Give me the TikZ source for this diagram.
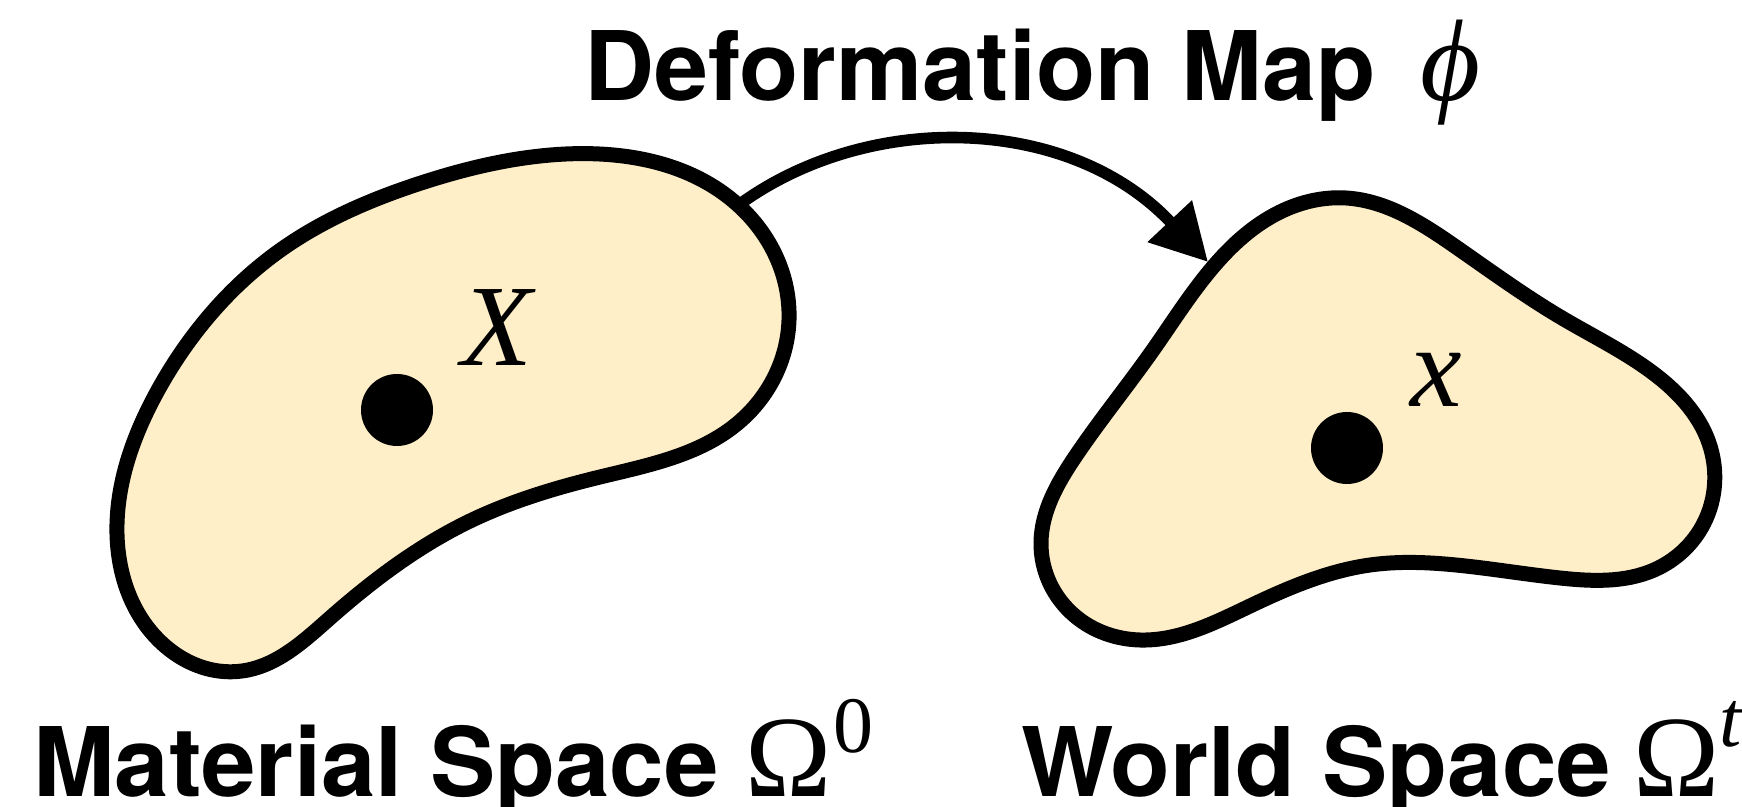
\documentclass[tikz,border=0pt]{standalone}
\usepackage{fontspec}
\setmainfont{TeX Gyre Heros}
\newfontfamily\headA{TeX Gyre Heros}[FakeStretch=1.02]
\newfontfamily\headB{TeX Gyre Heros}[FakeStretch=1.01]
\newfontfamily\tms{Liberation Serif}
\usetikzlibrary{arrows.meta,hobby}
\definecolor{blobfill}{RGB}{254,239,201}
\tikzset{
  blob/.style={fill=blobfill, draw=black, line width=7.5pt, line join=round},
  dot/.style={circle, fill=black, inner sep=0pt, minimum size=36pt},
  heading/.style={inner sep=0pt, anchor=base west, font=\headA\fontsize{48}{56}\selectfont\bfseries},
  sym/.style={inner sep=0pt, font=\tms\fontsize{58}{62}\selectfont},
  maparrow/.style={line width=5.8pt, -{Triangle[length=28pt,width=29pt]}}
}
\begin{document}
\begin{tikzpicture}[x=0.5pt,y=-0.5pt]
\useasboundingbox (0,0) rectangle (1742,807);
% material blob
\filldraw[blob, use Hobby shortcut, closed=true]
 (566,154) .. (738,205) .. (789,320) .. (738,423) .. (600,477) .. (470,521)
 .. (330,618) .. (242,671) .. (148,628) .. (117,534) .. (157,392) .. (282,249)
 .. (421,183);
% world blob
\filldraw[blob, use Hobby shortcut, closed=true]
 (1346,198) .. (1456,247) .. (1562,318) .. (1649,370) .. (1709,443) .. (1704,523)
 .. (1654,570) .. (1560,578) .. (1456,565) .. (1370,565) .. (1250,606)
 .. (1140,640) .. (1075,616) .. (1041,543) .. (1075,457) .. (1153,350)
 .. (1213,267) .. (1280,212);
% points
\node[dot] (P) at (397,410) {};
\node[dot] (p) at (1347,448) {};
\node[sym, anchor=base] (Xl) at (497,366) {\itshape X};
\node[sym, anchor=base] (xl) at (1436,407) {\itshape x};
% arrow
\coordinate (mstart) at (740,204);
\coordinate (wend) at (1208,262);
\draw[maparrow] (mstart) .. controls (870,110) and (1070,115) .. (wend);
% labels
\node[heading, font=\headB\fontsize{48}{56}\selectfont\bfseries] (title) at (584,101) {Deformation Map};
\node[sym, anchor=base west] (phi) at (1420,101) {\itshape ϕ};
\node[heading] (mat) at (33,797) {Material Space};
\node[sym, anchor=base west] (om0) at (745,797) {Ω\kern1pt\raisebox{22pt}{\fontsize{40}{44}\selectfont 0}};
\node[heading] (wor) at (1021,797) {World Space};
\node[sym, anchor=base west] (omt) at (1633,797) {Ω\kern0pt\raisebox{25pt}{\fontsize{40}{44}\selectfont\itshape t}};
\end{tikzpicture}
\end{document}
